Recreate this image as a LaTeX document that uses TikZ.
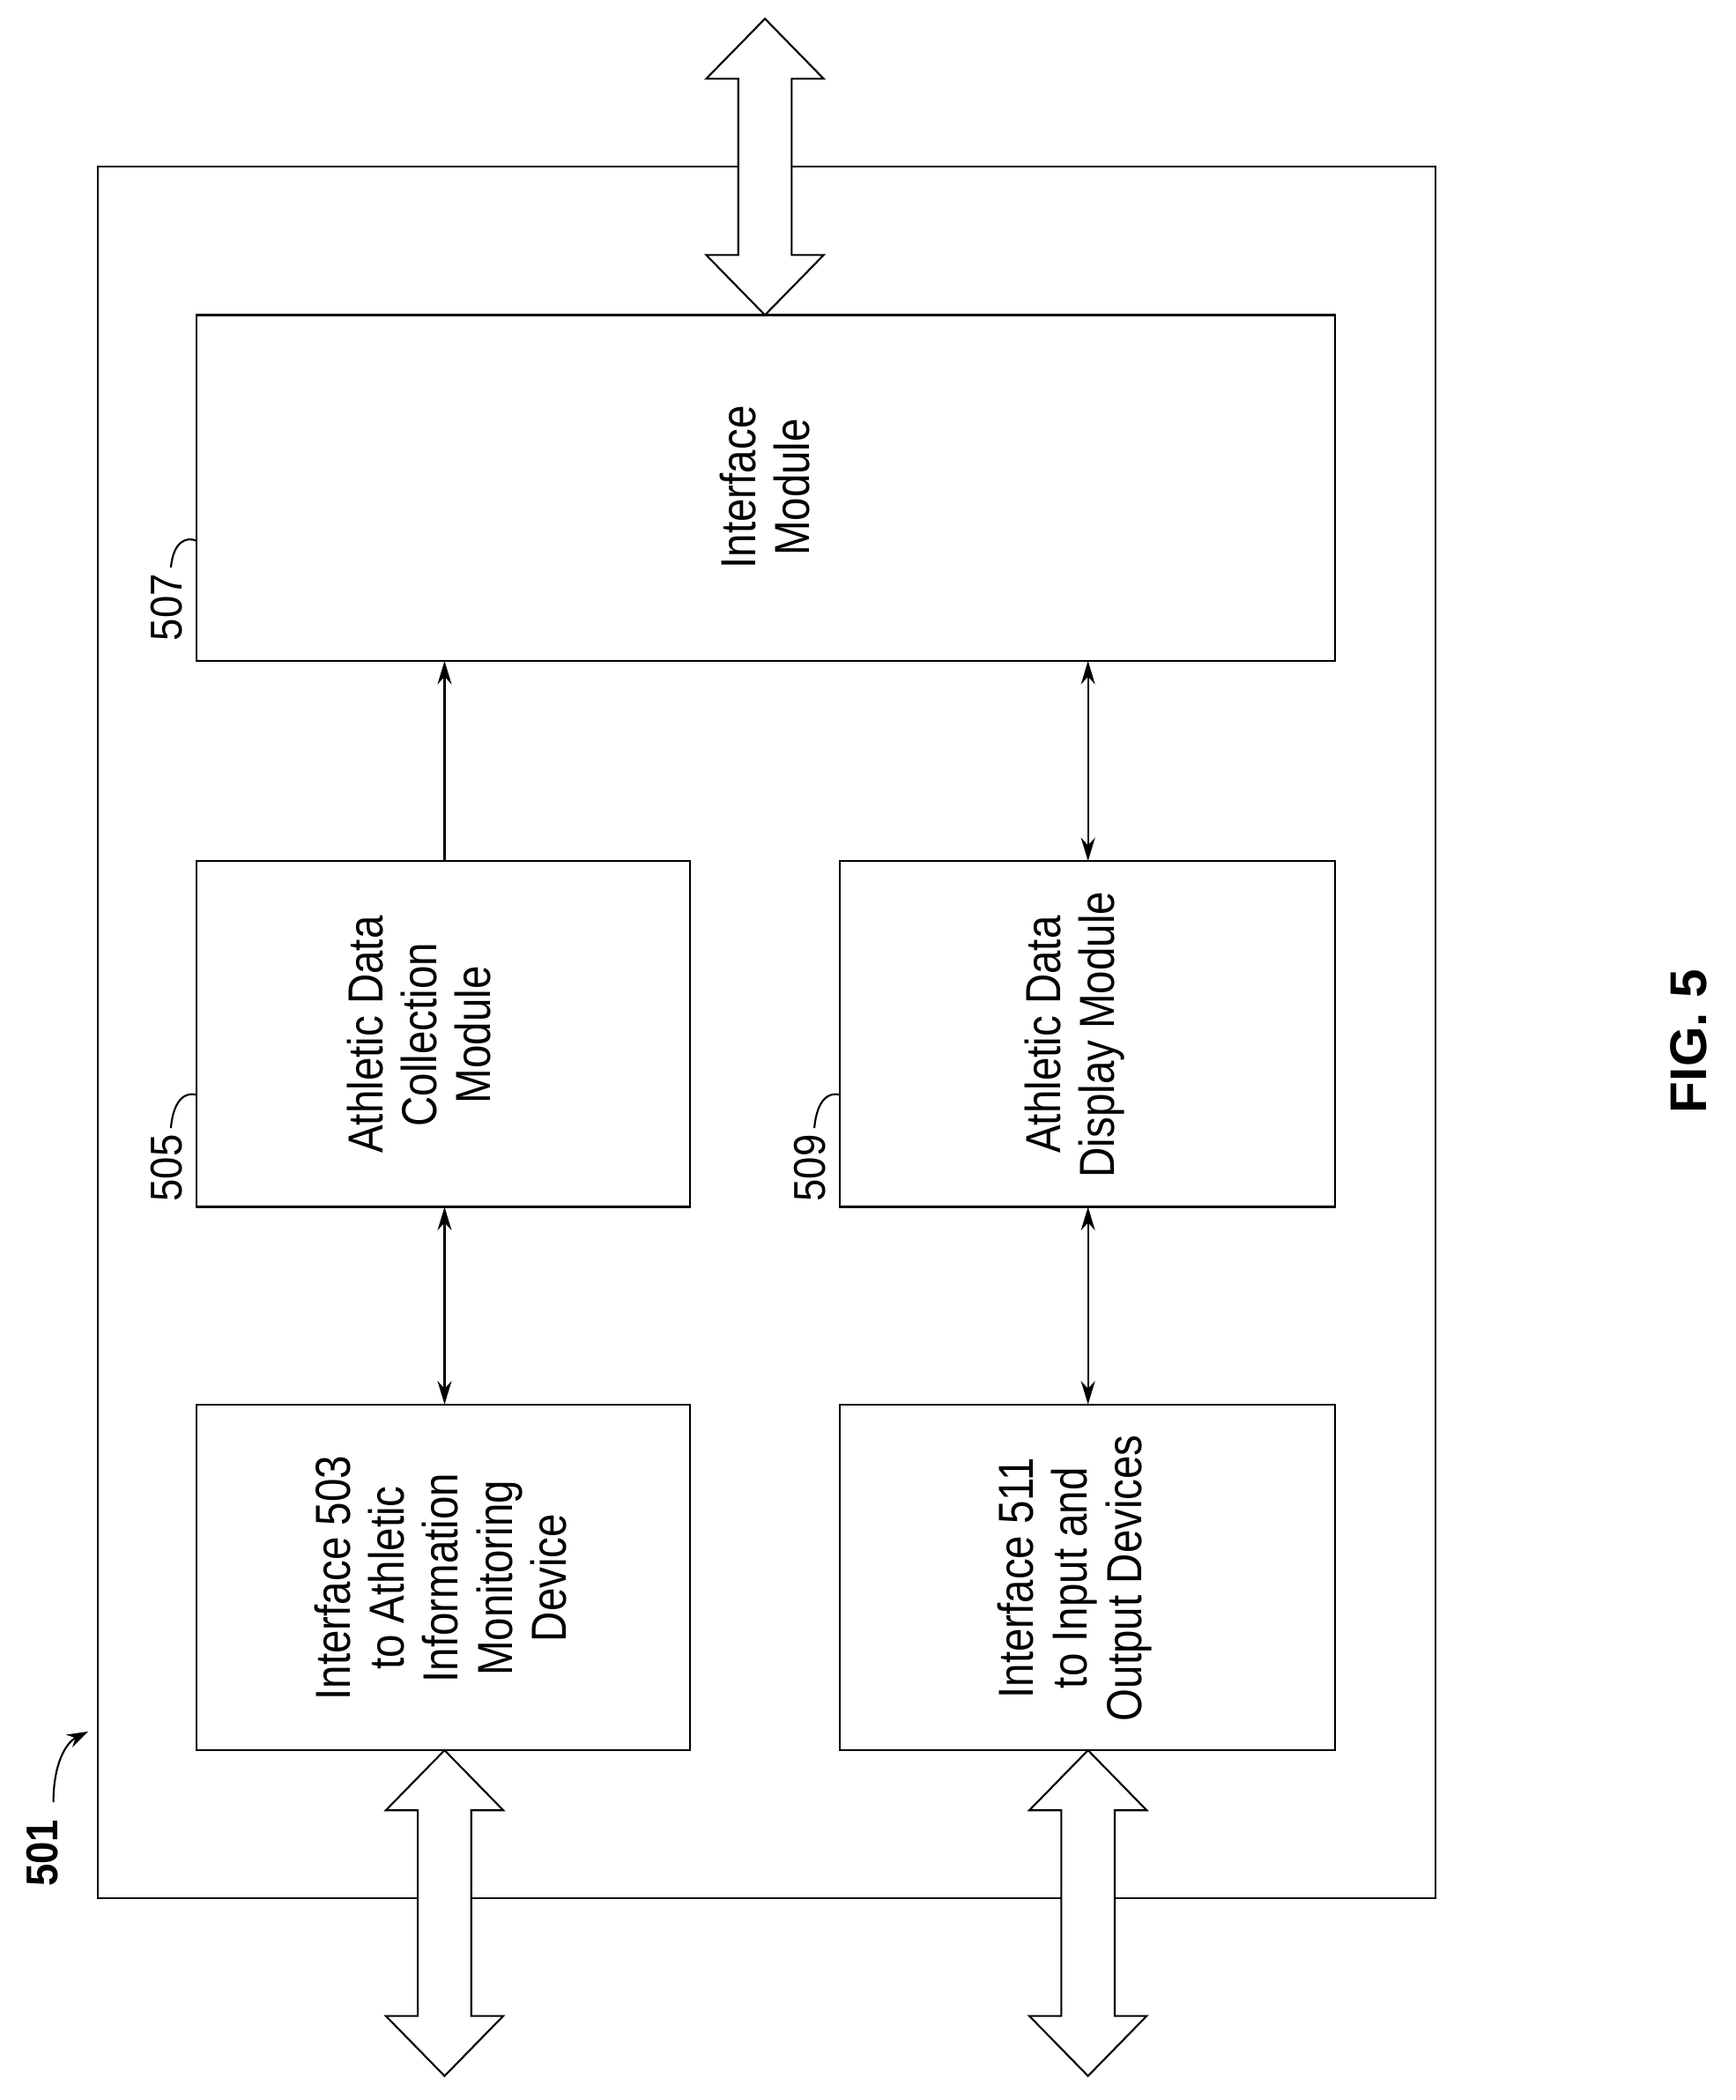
\documentclass[tikz,border=0pt]{standalone}
\usepackage{fontspec}
\setmainfont{Liberation Sans}
\usetikzlibrary{arrows.meta,positioning}
\begin{document}
\begin{tikzpicture}[
    x=0.02cm, y=-0.02cm,
    box/.style={draw=black, thick, inner sep=0pt},
    boxtext/.style={rotate=90, align=center, font=\fontsize{21}{23}\selectfont, xscale=0.85},
    refnum/.style={rotate=90, font=\fontsize{19}{21}\selectfont, xscale=0.9},
    conn/.style={thick, -{Stealth[length=10pt,width=6pt]}},
    biconn/.style={thick, {Stealth[length=10pt,width=6pt]}-{Stealth[length=10pt,width=6pt]}},
    hollow/.style={draw=black, thick, fill=white},
  ]
  \useasboundingbox (0,0) rectangle (1300,1573);
  \newcommand{\hollowarrow}[3]{% x, top, bottom
    \draw[hollow] (#1,#2) -- ++(44,45) -- ++(-24,0) -- (#1+20,#3-45) -- ++(24,0)
      -- (#1,#3) -- ++(-44,-45) -- ++(24,0) -- (#1-20,#2+45) -- ++(-24,0) -- cycle;}

  % outer frame
  \draw[thick] (73,125) rectangle (1075,1422);

  % modules
  \draw[box] (147,236) rectangle (1000,495);
  \node[boxtext] (ifm) at (573,365) {Interface\\Module};
  \draw[box] (147,645) rectangle (517,904);
  \node[boxtext] (coll) at (314,775) {Athletic Data\\Collection\\Module};
  \draw[box] (629,645) rectangle (1000,904);
  \node[boxtext] (disp) at (805,775) {Athletic Data\\Display Module};
  \draw[box] (147,1052) rectangle (517,1311);
  \node[boxtext] (mon) at (330,1182) {Interface 503\\to Athletic\\Information\\Monitoring\\Device};
  \draw[box] (629,1052) rectangle (1000,1311);
  \node[boxtext] (io) at (805,1182) {Interface 511\\to Input and\\Output Devices};

  \coordinate (cTop) at (333,645);
  \coordinate (cBot) at (333,904);
  \coordinate (dTop) at (815,645);
  \coordinate (dBot) at (815,904);
  \coordinate (iA) at (333,495);
  \coordinate (iB) at (815,495);
  \coordinate (mTop) at (333,1052);
  \coordinate (oTop) at (815,1052);

  \draw[conn] (cTop) -- (iA);
  \draw[biconn] (dTop) -- (iB);
  \draw[biconn] (cBot) -- (mTop);
  \draw[biconn] (dBot) -- (oTop);

  % external ports
  \hollowarrow{573}{14}{236}
  \hollowarrow{333}{1311}{1555}
  \hollowarrow{815}{1311}{1555}

  % reference numerals
  \node[refnum] (n507) at (125,455) {507};
  \draw[thick] (128,425) .. controls (130,405) and (140,402) .. (147,405);
  \node[refnum] (n505) at (125,875) {505};
  \draw[thick] (128,845) .. controls (130,822) and (140,818) .. (147,820);
  \node[refnum] (n509) at (607,875) {509};
  \draw[thick] (610,845) .. controls (612,822) and (622,818) .. (629,820);
  \node[refnum, font=\bfseries\fontsize{19}{21}\selectfont] (n501) at (32,1388) {501};
  \draw[thick, -{Stealth[length=9pt,width=6pt]}] (40,1350) .. controls (40,1320) and (50,1305) .. (66,1297);

  \node[rotate=90, font=\bfseries\fontsize{22}{24}\selectfont] (fig) at (1265,780) {FIG. 5};
\end{tikzpicture}
\end{document}
